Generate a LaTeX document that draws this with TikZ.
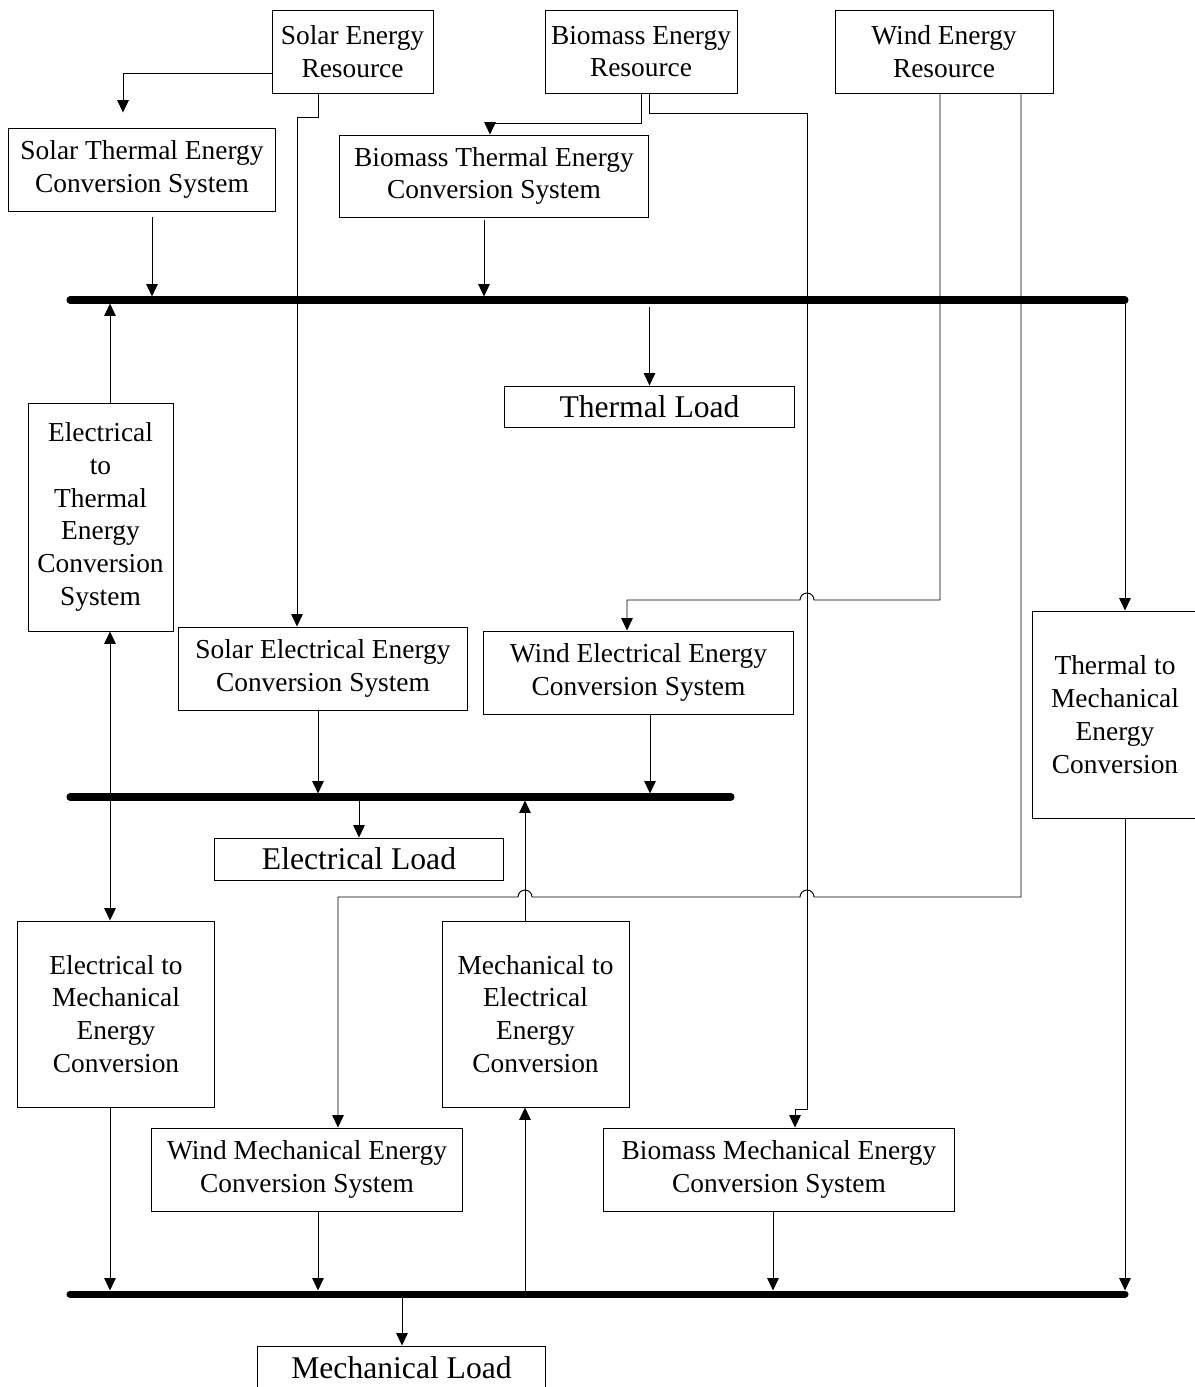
\documentclass[tikz,border=0pt]{standalone}
\usepackage{fontspec}
\setmainfont{Liberation Serif}
\usetikzlibrary{arrows.meta}

\begin{document}
\begin{tikzpicture}[x=0.02cm,y=-0.02cm,
  box/.style={draw,line width=0.55pt,align=center,inner sep=0pt,font=\fontsize{15.6}{18.7}\selectfont},
  load/.style={draw,line width=0.55pt,inner sep=0pt,font=\fontsize{18}{21}\selectfont},
  ln/.style={line width=0.55pt},
  arr/.style={ln,-{Triangle[length=7pt,width=6.5pt]}},
  arrtwo/.style={ln,{Triangle[length=7pt,width=6.5pt]}-{Triangle[length=7pt,width=6.5pt]}},
  bus/.style={line width=4pt,line cap=round}]
\clip (0,0) rectangle (1195,1387);
% resources
\node[box,minimum width=3.22cm,minimum height=1.66cm] (solres)at(352.5,51.5){Solar Energy\\Resource};
\node[box,minimum width=3.84cm,minimum height=1.66cm] (biores)at(641,51.5){Biomass Energy\\Resource};
\node[box,minimum width=4.36cm,minimum height=1.66cm] (windres)at(944,51.5){Wind Energy\\Resource};
% conversion systems
\node[box,minimum width=5.36cm,minimum height=1.66cm] (solth)at(142,169.5){Solar Thermal Energy\\Conversion System};
\node[box,minimum width=6.2cm,minimum height=1.64cm] (bioth)at(494,176){Biomass Thermal Energy\\Conversion System};
\node[box,minimum width=2.9cm,minimum height=4.56cm] (e2t)at(100.5,517){Electrical\\to\\Thermal\\Energy\\Conversion\\System};
\node[box,minimum width=5.8cm,minimum height=1.66cm] (solel)at(323,668.5){Solar Electrical Energy\\Conversion System};
\node[box,minimum width=6.22cm,minimum height=1.66cm] (windel)at(638.5,672.5){Wind Electrical Energy\\Conversion System};
\node[box,minimum width=3.32cm,minimum height=4.14cm] (t2m)at(1115,714.5){Thermal to\\Mechanical\\Energy\\Conversion};
\node[box,minimum width=3.96cm,minimum height=3.72cm] (e2m)at(116,1014){Electrical to\\Mechanical\\Energy\\Conversion};
\node[box,minimum width=3.74cm,minimum height=3.72cm] (m2e)at(535.5,1014){Mechanical to\\Electrical\\Energy\\Conversion};
\node[box,minimum width=6.24cm,minimum height=1.66cm] (windmech)at(307,1169.5){Wind Mechanical Energy\\Conversion System};
\node[box,minimum width=7.04cm,minimum height=1.66cm] (biomech)at(779,1169.5){Biomass Mechanical Energy\\Conversion System};
% loads
\node[load,minimum width=5.82cm,minimum height=0.82cm] (thload)at(649.5,406.5){Thermal Load};
\node[load,minimum width=5.8cm,minimum height=0.84cm] (elload)at(359,859){Electrical Load};
\node[load,minimum width=5.78cm,minimum height=0.86cm] (mechload)at(401.5,1367.5){Mechanical Load};
% buses
\coordinate (thL)at(70,300); \coordinate (thR)at(1125,300);
\coordinate (elL)at(70,797); \coordinate (elR)at(731,797);
\coordinate (mechL)at(70,1294); \coordinate (mechR)at(1125,1294);
\draw[bus] (thL) -- (thR);
\draw[bus] (elL) -- (elR);
\draw[bus] (mechL) -- (mechR);
% from the resources
\draw[arr,shorten >=0.3cm] (solres.west |- 0,73) -| (solth.north -| 123,0);
\draw[arr] (solres.south -| 318,0) |- (297,117) -- (solel.north -| 297,0);
\draw[arr] (biores.south -| 641,0) |- (490,123) -- (bioth.north -| 490,0);
\draw[arr] (biores.south -| 649,0) |- (807,113) -- (807,1109) -| (biomech.north -| 795,0);
\draw[arr] (windres.south -| 940,0) -- (940,600) -- (814,600)
  arc[start angle=0,end angle=-180,radius=7] -- (627,600) -- (windel.north -| 627,0);
\draw[arr] (windres.south -| 1021,0) -- (1021,897) -- (814,897)
  arc[start angle=0,end angle=-180,radius=7] -- (532,897)
  arc[start angle=0,end angle=-180,radius=7] -- (338,897) -- (windmech.north -| 338,0);
% thermal bus
\draw[arr,shorten <=0.12cm,shorten >=2pt] (solth.south -| 152,0) -- (thL -| 152,0);
\draw[arr,shorten <=0.06cm,shorten >=2pt] (bioth.south -| 484,0) -- (thL -| 484,0);
\draw[arr,shorten >=2pt] (e2t.north -| 110,0) -- (thL -| 110,0);
\draw[arr,shorten <=0.14cm] (thL -| thload.north) -- (thload.north);
\draw[arr] (thR) -- (t2m.north -| thR);
\draw[arrtwo] (e2t.south -| 110,0) -- (e2m.north -| 110,0);
% electrical bus
\draw[arr,shorten >=2pt] (solel.south -| 318,0) -- (elL -| 318,0);
\draw[arr,shorten >=2pt] (windel.south -| 650,0) -- (elL -| 650,0);
\draw[arr,shorten >=2pt] (m2e.north -| 525,0) -- (elL -| 525,0);
\draw[arr,shorten <=2pt] (elL -| elload.north) -- (elload.north);
% mechanical bus
\draw[arr,shorten >=2pt] (e2m.south -| 110,0) -- (mechL -| 110,0);
\draw[arr,shorten >=2pt] (windmech.south -| 318,0) -- (mechL -| 318,0);
\draw[arr,shorten >=2pt] (biomech.south -| 773,0) -- (mechL -| 773,0);
\draw[arr,shorten >=2pt] (t2m.south -| mechR) -- (mechR);
\draw[arr,shorten <=2pt] (mechL -| 525,0) -- (m2e.south -| 525,0);
\draw[arr,shorten <=2pt] (mechL -| 402,0) -- (mechload.north -| 402,0);
\end{tikzpicture}
\end{document}
